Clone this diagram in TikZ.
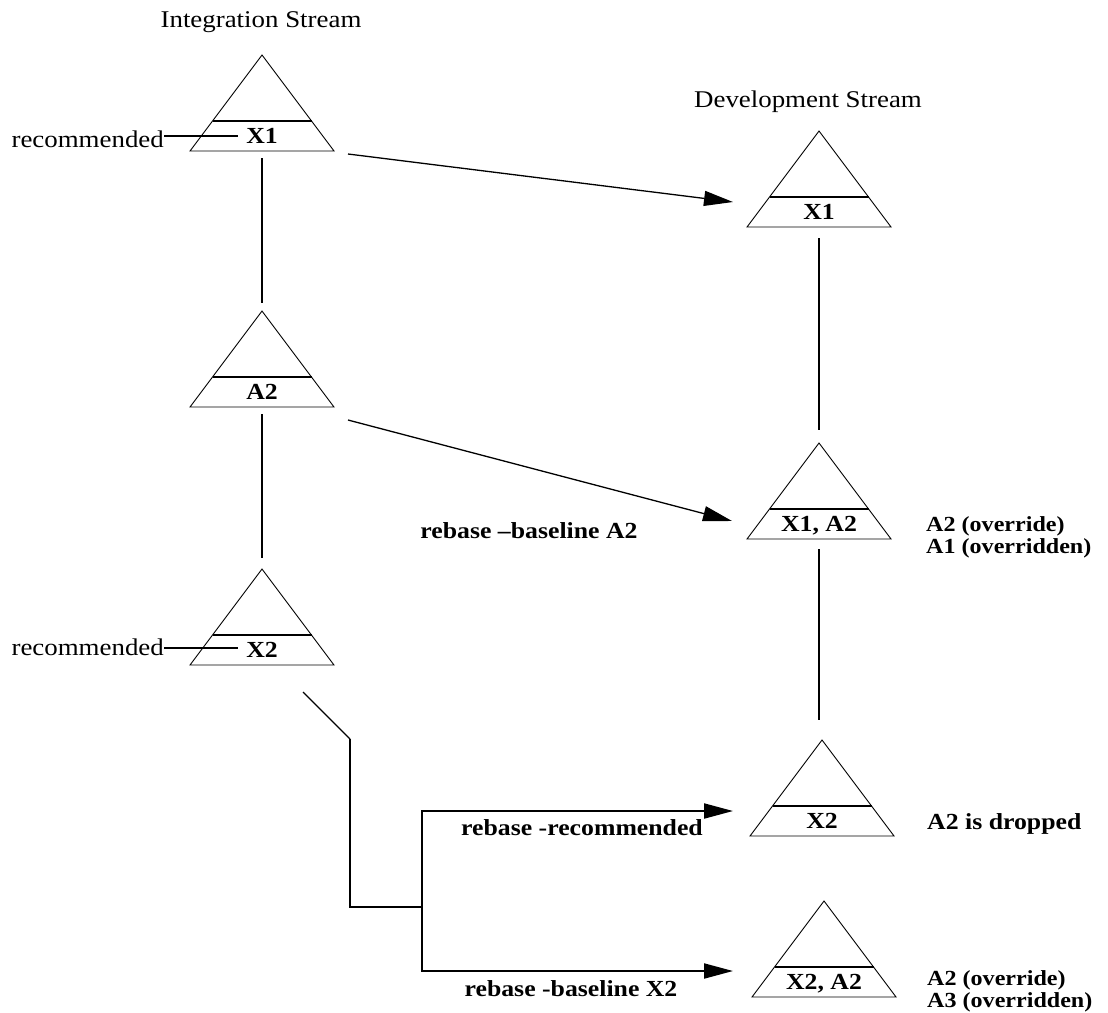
\documentclass[tikz,border=0pt]{standalone}
\usepackage{fontspec}
\setmainfont[FakeStretch=1.12]{Liberation Serif}
\usetikzlibrary{arrows.meta,calc}
\tikzset{
  tribox/.style={minimum width=144pt, minimum height=96pt, inner sep=0pt, outer sep=0pt, draw=none},
  triline/.style={line width=0.9pt, line join=miter},
  barline/.style={line width=2pt},
  conn/.style={line width=2pt},
  thinconn/.style={line width=1.3pt},
  arr/.style={line width=1.3pt, -{Triangle[length=29pt,width=15pt]}},
  elbow/.style={line width=2pt, line join=miter, -{Triangle[length=29pt,width=15pt]}},
  plain/.style={font=\fontsize{24}{28}\selectfont, inner sep=0pt},
  note/.style={font=\bfseries\fontsize{23}{26}\selectfont, inner sep=0pt},
  note2/.style={font=\bfseries\fontsize{21.5}{24}\selectfont, inner sep=0pt, anchor=base west},
  tlabel/.style={font=\bfseries\fontsize{23}{26}\selectfont, inner sep=0pt, anchor=base},
}
\newcommand\sbtri[4]{%
  \node[tribox] (#1) at (#2,#3) {};
  \draw[triline] (#1.south west) -- (#1.north) -- (#1.south east) -- cycle;
  \draw[barline] ($(#1.south west)!0.3125!(#1.north)$) -- ($(#1.south east)!0.3125!(#1.north)$);
  \node[tlabel] (#1l) at ($(#1.south)+(0,-8)$) {#4};
}
\begin{document}
\begin{tikzpicture}[x=1pt,y=-1pt]
\useasboundingbox (0,0) rectangle (1108,1012);
% triangles
\sbtri{t1}{262}{103}{X1}
\sbtri{t2}{262}{359}{A2}
\sbtri{t3}{262}{617}{X2}
\sbtri{t4}{819}{179}{X1}
\sbtri{t5}{819}{491}{X1, A2}
\sbtri{t6}{822}{788}{X2}
\sbtri{t7}{824}{949}{X2, A2}
% titles
\node[plain, anchor=base] (it) at (261,27) {Integration Stream};
\node[plain, anchor=base] (dt) at (808,107) {Development Stream};
% recommended labels
\node[plain, anchor=base east] (rec1) at (164,147) {recommended};
\coordinate (r1) at ($(t1.south)+(-24,-15)$);
\draw[conn] (rec1.east |- r1) -- (r1);
\node[plain, anchor=base east] (rec2) at (164,655) {recommended};
\coordinate (r2) at ($(t3.south)+(-24,-17)$);
\draw[conn] (rec2.east |- r2) -- (r2);
% vertical connectors
\draw[conn, shorten <=7pt, shorten >=8pt] (t1.south) -- (t2.north);
\draw[conn, shorten <=7pt, shorten >=11pt] (t2.south) -- (t3.north);
\draw[conn, shorten <=11pt, shorten >=13pt] (t4.south) -- (t5.north);
\draw[conn, shorten <=10pt, shorten >=20pt] (t5.south) -- (t5.south |- t6.north);
% diagonal arrows
\coordinate (a1s) at ($(t1.south east)+(14,3)$);
\coordinate (a1e) at ($(t4.south west)+(-14,-25)$);
\draw[arr] (a1s) -- (a1e);
\coordinate (a2s) at ($(t2.south east)+(14,13)$);
\coordinate (a2e) at ($(t5.south west)+(-15,-18)$);
\draw[arr] (a2s) -- (a2e);
% bottom elbow connectors
\coordinate (d0) at ($(t3.south)+(41,27)$);
\coordinate (bend) at ($(t3.south)+(88,74)$);
\coordinate (jn) at ($(t3.south)+(160,242)$);
\draw[thinconn] (d0) -- (bend);
\draw[conn, line join=miter] (bend) |- (jn);
\coordinate (e6) at ($(t6.south west)+(-17,-25)$);
\coordinate (e7) at ($(t7.south west)+(-19,-26)$);
\draw[elbow] (jn) |- (e6);
\draw[elbow] (jn) |- (e7);
% bold notes
\node[note, anchor=base] (lA2) at (529,538) {rebase –baseline A2};
\node[note, anchor=base] (lrec) at (582,835) {rebase -recommended};
\node[note, anchor=base] (lbx2) at (571,996) {rebase -baseline X2};
\node[note2] (n1) at (926,531) {A2 (override)};
\node[note2] (n2) at (926,553) {A1 (overridden)};
\node[note, anchor=base west] (n3) at (927,829) {A2 is dropped};
\node[note2] (n4) at (927,985) {A2 (override)};
\node[note2] (n5) at (927,1007) {A3 (overridden)};
\end{tikzpicture}
\end{document}
